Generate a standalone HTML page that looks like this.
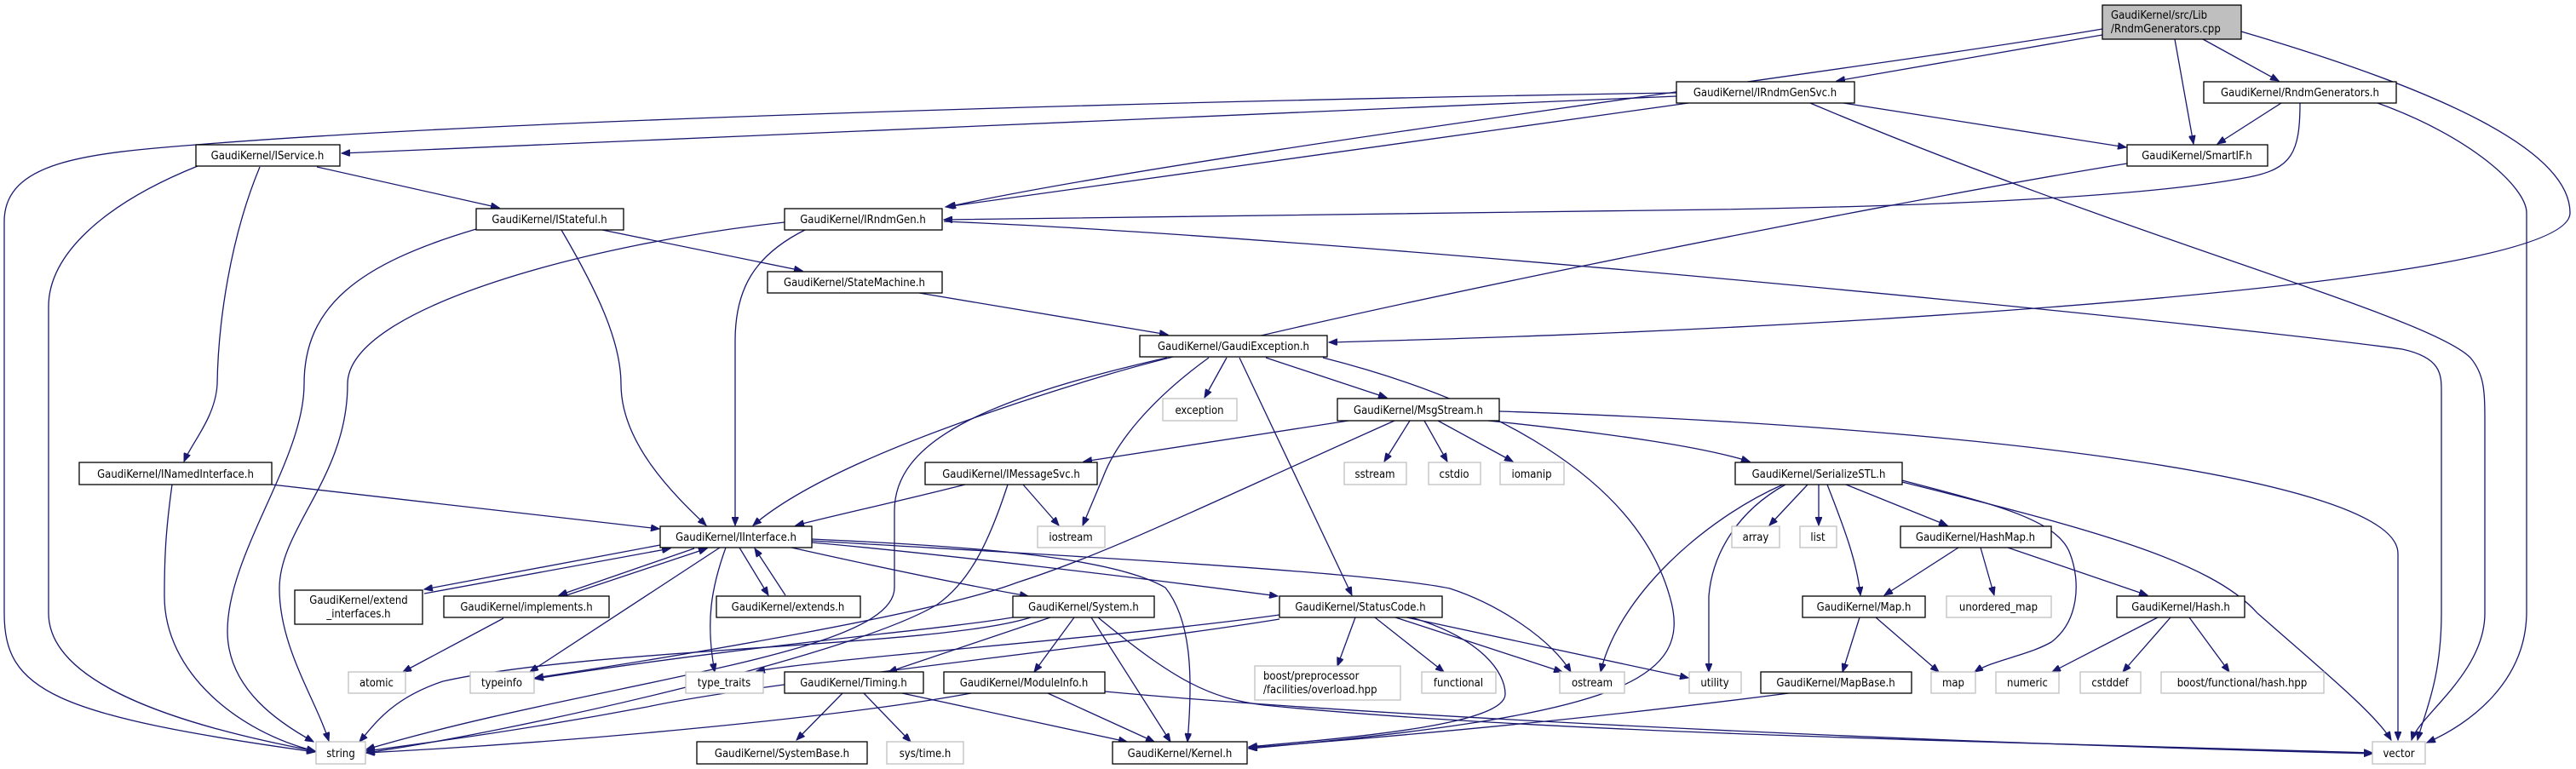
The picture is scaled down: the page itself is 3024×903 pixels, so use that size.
<!DOCTYPE html>
<html><head><meta charset="utf-8"><style>
html,body{margin:0;padding:0;background:#fff;width:3024px;height:903px;overflow:hidden}
svg text{font-family:"DejaVu Sans Condensed","DejaVu Sans","Liberation Sans",sans-serif;font-size:13px;fill:#000}
.n{fill:#fff;stroke:#000;stroke-width:1.3}
.g{fill:#fff;stroke:#bfbfbf;stroke-width:1.3}
.e path{fill:none;stroke:#191970;stroke-width:1.3;marker-end:url(#a)}
</style></head><body>
<svg width="3024" height="903" viewBox="0 0 3024 903" xmlns="http://www.w3.org/2000/svg">
<defs><marker id="a" markerUnits="userSpaceOnUse" markerWidth="11" markerHeight="8" refX="10" refY="4" orient="auto"><path d="M0,0 L10,4 L0,8 z" fill="#191970" stroke="#191970"/></marker></defs>
<g class="e">
<path d="M2468,41 L2156,95"/>
<path d="M2468,34 C2200,80 1400,180 1112,243"/>
<path d="M2553,46 L2575,169"/>
<path d="M2586,46 L2675,95"/>
<path d="M2631,37 C2880,110 3017,180 3017,250 C3017,310 2600,350 2200,375 C1900,393 1700,398 1560,402"/>
<path d="M1968,113 L401,180"/>
<path d="M1968,109 C1400,118 600,140 230,170 C100,180 5,190 5,260 L5,720 C5,810 60,840 370,883"/>
<path d="M1982,121 L1110,243"/>
<path d="M2164,121 L2496,173"/>
<path d="M2125,121 C2500,280 2850,370 2900,420 C2917,440 2917,460 2917,500 L2917,720 C2917,790 2840,840 2831,869"/>
<path d="M2678,121 L2603,169"/>
<path d="M2700,121 C2700,180 2690,198 2640,208 C2500,235 2200,243 2016,246 L1108,258"/>
<path d="M2791,121 C2900,160 2966,220 2966,250 L2966,718 C2966,800 2900,850 2849,872"/>
<path d="M2497,192 C2200,240 1500,380 1300,440 C1100,500 950,560 884,617"/>
<path d="M372,196 L586,244"/>
<path d="M305,196 C270,280 256,380 255,451 C253,490 225,520 216,542"/>
<path d="M232,195 C120,240 57,300 57,360 L57,720 C57,800 200,850 370,882"/>
<path d="M707,270 L942,318"/>
<path d="M559,269 C420,310 357,360 357,451 C357,540 267,650 267,741 C267,810 330,850 368,871"/>
<path d="M659,270 C700,340 729,400 729,451 C729,520 790,580 829,617"/>
<path d="M921,261 C700,285 408,360 408,451 C408,560 328,620 328,691 C328,760 370,820 386,870"/>
<path d="M945,270 C885,300 863,340 863,400 L863,617"/>
<path d="M1108,260 C1600,280 2600,380 2820,410 C2866,420 2866,440 2866,460 L2866,720 C2866,800 2845,840 2838,869"/>
<path d="M1079,344 L1371,393"/>
<path d="M1370,420 C1150,470 1050,520 1050,600 L1050,690 C1050,770 700,800 430,880"/>
<path d="M1419,420 C1350,470 1310,520 1295,560 L1271,617"/>
<path d="M1440,420 L1414,467"/>
<path d="M1455,420 L1587,699"/>
<path d="M1486,420 L1628,467"/>
<path d="M1553,420 C1750,470 1920,560 1960,700 C1990,800 1900,840 1466,879"/>
<path d="M1583,494 L1272,542"/>
<path d="M1655,494 L1625,542"/>
<path d="M1672,494 L1699,542"/>
<path d="M1688,494 L1776,542"/>
<path d="M1747,494 C1900,510 2000,525 2054,542"/>
<path d="M1760,483 C2300,500 2815,560 2815,650 L2815,869"/>
<path d="M1637,494 C1400,600 1300,650 1194,684 C1100,720 800,770 628,796"/>
<path d="M1133,569 C1050,590 980,605 934,617"/>
<path d="M1201,569 L1243,617"/>
<path d="M1183,569 C1160,640 1137,684 1100,710 C1000,770 600,860 430,884"/>
<path d="M319,569 L774,621"/>
<path d="M202,569 C195,620 193,650 193,700 C193,790 280,860 370,882"/>
<path d="M775,640 L498,692"/>
<path d="M498,697 L787,644"/>
<path d="M815,644 L656,699"/>
<path d="M665,699 L830,644"/>
<path d="M868,643 L902,699"/>
<path d="M922,699 L886,644"/>
<path d="M845,643 L622,789"/>
<path d="M852,643 C835,690 828,730 839,789"/>
<path d="M929,643 C1050,670 1150,690 1207,700"/>
<path d="M953,637 C1100,650 1350,680 1500,700"/>
<path d="M953,633 C1100,640 1300,650 1368,690 C1400,730 1400,800 1394,871"/>
<path d="M953,635 C1200,650 1600,670 1702,691 C1760,710 1820,750 1844,789"/>
<path d="M591,726 L473,789"/>
<path d="M1189,725 C1100,740 900,755 628,797"/>
<path d="M1210,725 C1100,760 700,760 520,800 C460,820 440,850 422,871"/>
<path d="M1233,725 L1043,789"/>
<path d="M1261,725 L1214,789"/>
<path d="M1281,725 L1374,871"/>
<path d="M1289,725 C1380,800 1420,820 1484,828 C1800,860 2300,870 2785,884"/>
<path d="M1591,725 L1570,782"/>
<path d="M1614,725 L1695,789"/>
<path d="M1638,725 L1834,789"/>
<path d="M1651,725 L1982,796"/>
<path d="M1657,725 C1740,750 1767,790 1767,815 C1767,850 1600,865 1466,877"/>
<path d="M1502,722 C1300,750 1000,770 888,788"/>
<path d="M1502,727 C1300,760 900,800 760,830 C600,860 480,875 430,882"/>
<path d="M989,814 L935,869"/>
<path d="M1014,814 L1069,871"/>
<path d="M1059,814 L1323,871"/>
<path d="M1140,814 C1000,840 700,870 430,884"/>
<path d="M1230,814 L1355,871"/>
<path d="M1297,812 C1600,840 2200,870 2785,885"/>
<path d="M2100,814 C1900,840 1700,860 1466,878"/>
<path d="M2122,569 L2077,617"/>
<path d="M2135,569 L2135,617"/>
<path d="M2167,569 L2286,617"/>
<path d="M2145,569 C2165,620 2180,660 2184,699"/>
<path d="M2233,564 C2330,590 2415,608 2430,650 C2443,684 2440,730 2408,754 C2380,770 2340,775 2318,789"/>
<path d="M2233,566 C2450,620 2595,658 2650,720 C2730,790 2790,840 2807,869"/>
<path d="M2093,569 C2000,610 1900,700 1879,789"/>
<path d="M2096,569 C2040,600 2010,650 2006,700 L2006,789"/>
<path d="M2299,643 L2212,699"/>
<path d="M2325,643 L2341,699"/>
<path d="M2357,643 L2521,699"/>
<path d="M2183,725 L2163,789"/>
<path d="M2202,725 L2276,789"/>
<path d="M2533,725 L2409,789"/>
<path d="M2548,725 L2492,789"/>
<path d="M2570,725 L2617,789"/>
</g>
<g>
<rect x="2468" y="6" width="163" height="40" fill="#bfbfbf" stroke="#000" stroke-width="1.3"/>
<text x="2478" y="22">GaudiKernel/src/Lib</text><text x="2478" y="38">/RndmGenerators.cpp</text>
</g>
<g text-anchor="middle">
<rect class="n" x="1968" y="96" width="209" height="25"/><text x="2072" y="113">GaudiKernel/IRndmGenSvc.h</text>
<rect class="n" x="2587" y="96" width="226" height="25"/><text x="2700" y="113">GaudiKernel/RndmGenerators.h</text>
<rect class="n" x="230" y="170" width="169" height="25"/><text x="314" y="187">GaudiKernel/IService.h</text>
<rect class="n" x="2497" y="170" width="165" height="25"/><text x="2579" y="187">GaudiKernel/SmartIF.h</text>
<rect class="n" x="559" y="245" width="173" height="25"/><text x="645" y="262">GaudiKernel/IStateful.h</text>
<rect class="n" x="921" y="245" width="185" height="25"/><text x="1013" y="262">GaudiKernel/IRndmGen.h</text>
<rect class="n" x="901" y="319" width="205" height="25"/><text x="1003" y="336">GaudiKernel/StateMachine.h</text>
<rect class="n" x="1338" y="394" width="220" height="25"/><text x="1448" y="411">GaudiKernel/GaudiException.h</text>
<rect class="g" x="1365" y="468" width="87" height="26"/><text x="1408" y="486">exception</text>
<rect class="n" x="1570" y="468" width="190" height="26"/><text x="1665" y="486">GaudiKernel/MsgStream.h</text>
<rect class="n" x="93" y="543" width="226" height="26"/><text x="206" y="561">GaudiKernel/INamedInterface.h</text>
<rect class="n" x="1086" y="543" width="202" height="26"/><text x="1187" y="561">GaudiKernel/IMessageSvc.h</text>
<rect class="g" x="1578" y="543" width="73" height="26"/><text x="1614" y="561">sstream</text>
<rect class="g" x="1677" y="543" width="61" height="26"/><text x="1707" y="561">cstdio</text>
<rect class="g" x="1761" y="543" width="75" height="26"/><text x="1798" y="561">iomanip</text>
<rect class="n" x="2037" y="543" width="196" height="26"/><text x="2135" y="561">GaudiKernel/SerializeSTL.h</text>
<rect class="n" x="775" y="618" width="178" height="25"/><text x="864" y="635">GaudiKernel/IInterface.h</text>
<rect class="g" x="1218" y="618" width="79" height="25"/><text x="1257" y="635">iostream</text>
<rect class="g" x="2033" y="618" width="56" height="25"/><text x="2061" y="635">array</text>
<rect class="g" x="2113" y="618" width="43" height="25"/><text x="2134" y="635">list</text>
<rect class="n" x="2231" y="618" width="177" height="25"/><text x="2319" y="635">GaudiKernel/HashMap.h</text>
<rect class="n" x="346" y="693" width="150" height="40"/><text x="421" y="709">GaudiKernel/extend</text><text x="421" y="725">_interfaces.h</text>
<rect class="n" x="521" y="700" width="194" height="25"/><text x="618" y="717">GaudiKernel/implements.h</text>
<rect class="n" x="841" y="700" width="169" height="25"/><text x="925" y="717">GaudiKernel/extends.h</text>
<rect class="n" x="1189" y="700" width="166" height="25"/><text x="1272" y="717">GaudiKernel/System.h</text>
<rect class="n" x="1502" y="700" width="191" height="25"/><text x="1597" y="717">GaudiKernel/StatusCode.h</text>
<rect class="n" x="2116" y="700" width="144" height="25"/><text x="2188" y="717">GaudiKernel/Map.h</text>
<rect class="g" x="2285" y="700" width="123" height="25"/><text x="2346" y="717">unordered_map</text>
<rect class="n" x="2485" y="700" width="150" height="25"/><text x="2560" y="717">GaudiKernel/Hash.h</text>
<rect class="g" x="409" y="789" width="67" height="25"/><text x="442" y="806">atomic</text>
<rect class="g" x="552" y="789" width="75" height="25"/><text x="589" y="806">typeinfo</text>
<rect class="g" x="805" y="789" width="91" height="25"/><text x="850" y="806">type_traits</text>
<rect class="n" x="921" y="789" width="163" height="25"/><text x="1002" y="806">GaudiKernel/Timing.h</text>
<rect class="n" x="1108" y="789" width="189" height="25"/><text x="1202" y="806">GaudiKernel/ModuleInfo.h</text>
<rect class="g" x="1473" y="782" width="171" height="40"/><text x="1483" y="798" text-anchor="start">boost/preprocessor</text><text x="1483" y="814" text-anchor="start">/facilities/overload.hpp</text>
<rect class="g" x="1669" y="789" width="87" height="25"/><text x="1712" y="806">functional</text>
<rect class="g" x="1831" y="789" width="76" height="25"/><text x="1869" y="806">ostream</text>
<rect class="g" x="1983" y="789" width="61" height="25"/><text x="2013" y="806">utility</text>
<rect class="n" x="2067" y="789" width="177" height="25"/><text x="2155" y="806">GaudiKernel/MapBase.h</text>
<rect class="g" x="2267" y="789" width="52" height="25"/><text x="2293" y="806">map</text>
<rect class="g" x="2343" y="789" width="74" height="25"/><text x="2380" y="806">numeric</text>
<rect class="g" x="2442" y="789" width="71" height="25"/><text x="2477" y="806">cstddef</text>
<rect class="g" x="2537" y="789" width="191" height="25"/><text x="2632" y="806">boost/functional/hash.hpp</text>
<rect class="g" x="371" y="871" width="58" height="26"/><text x="400" y="889">string</text>
<rect class="n" x="818" y="871" width="200" height="26"/><text x="918" y="889">GaudiKernel/SystemBase.h</text>
<rect class="g" x="1041" y="871" width="90" height="26"/><text x="1086" y="889">sys/time.h</text>
<rect class="n" x="1306" y="871" width="158" height="26"/><text x="1385" y="889">GaudiKernel/Kernel.h</text>
<rect class="g" x="2785" y="871" width="62" height="26"/><text x="2816" y="889">vector</text>
</g>
</svg>
</body></html>
